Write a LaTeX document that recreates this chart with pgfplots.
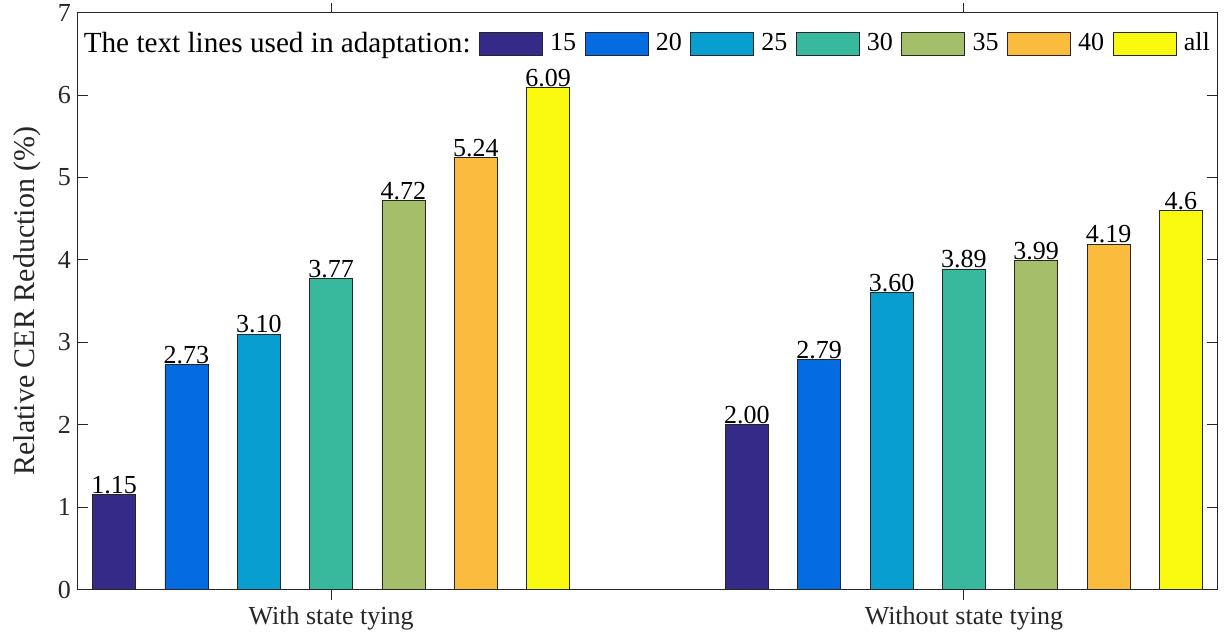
\documentclass[border=0pt]{standalone}
\usepackage{fontspec}
\setmainfont{Liberation Serif}
\usepackage{pgfplots}
\pgfplotsset{compat=1.18}
\usetikzlibrary{calc}
\definecolor{c1}{RGB}{53,42,135}
\definecolor{c2}{RGB}{4,108,224}
\definecolor{c3}{RGB}{8,158,207}
\definecolor{c4}{RGB}{56,185,157}
\definecolor{c5}{RGB}{165,190,106}
\definecolor{c6}{RGB}{251,188,61}
\definecolor{c7}{RGB}{249,249,15}
\definecolor{axc}{RGB}{38,38,38}
\pgfplotsset{myleg/.style={legend image code/.code={\draw[##1,/tikz/.cd] (0pt,-5.75pt) rectangle (31.5pt,5.75pt);}}}
\begin{document}
\begin{tikzpicture}
\begin{axis}[
  scale only axis, width=569.5pt, height=288.5pt,
  xmin=0.6, xmax=2.4, ymin=0, ymax=7,
  ytick={0,1,2,3,4,5,6,7}, xtick={1,2},
  xticklabels={With state tying, Without state tying},
  tick align=inside, major tick length=5pt,
  axis line style={axc, line width=0.5pt},
  tick style={axc, line width=0.5pt},
  ylabel={Relative CER Reduction (\%)},
  ylabel style={text=axc, font=\fontsize{15}{17}\selectfont},
  ylabel shift=1.5pt,
  ticklabel style={text=axc},
  ybar, bar width=0.068,
  nodes near coords, point meta=explicit symbolic,
  nodes near coords style={anchor=south, inner sep=0.3pt, font=\fontsize{13}{14}\selectfont, text=black},
  font=\fontsize{13}{15}\selectfont,
  /pgf/number format/assume math mode=true,
  legend columns=8,
  legend cell align=left,
  legend style={at={(0,0.9466)}, anchor=west, xshift=-1pt, draw=none, fill=none,
    inner sep=0pt,
    nodes={inner xsep=0pt, inner ysep=1pt},
    font=\fontsize{13}{15}\selectfont,
    /tikz/every odd column/.append style={column sep=3.7pt},
    /tikz/every even column/.append style={column sep=4.2pt}},
]
\coordinate (ll) at (rel axis cs:0,0);
\coordinate (ur) at (rel axis cs:1,1);
\addlegendimage{empty legend}
\addlegendentry{\fontsize{14.6}{16}\selectfont The text lines used in adaptation:}
\addplot[fill=c1, draw=axc, line width=0.4pt, bar shift=-0.3429, myleg] coordinates {(1,1.15) [1.15] (2,2.00) [2.00]};
\addlegendentry{15}
\addplot[fill=c2, draw=axc, line width=0.4pt, bar shift=-0.2286, myleg] coordinates {(1,2.73) [2.73] (2,2.79) [2.79]};
\addlegendentry{20}
\addplot[fill=c3, draw=axc, line width=0.4pt, bar shift=-0.1143, myleg] coordinates {(1,3.10) [3.10] (2,3.60) [3.60]};
\addlegendentry{25}
\addplot[fill=c4, draw=axc, line width=0.4pt, bar shift=0, myleg] coordinates {(1,3.77) [3.77] (2,3.89) [3.89]};
\addlegendentry{30}
\addplot[fill=c5, draw=axc, line width=0.4pt, bar shift=0.1143, myleg] coordinates {(1,4.72) [4.72] (2,3.99) [3.99]};
\addlegendentry{35}
\addplot[fill=c6, draw=axc, line width=0.4pt, bar shift=0.2286, myleg] coordinates {(1,5.24) [5.24] (2,4.19) [4.19]};
\addlegendentry{40}
\addplot[fill=c7, draw=axc, line width=0.4pt, bar shift=0.3429, myleg] coordinates {(1,6.09) [6.09] (2,4.60) [4.6]};
\addlegendentry{all}
\end{axis}
\pgfresetboundingbox
\path[use as bounding box] ($(ll)+(-39pt,-21.5pt)$) rectangle ($(ur)+(4.5pt,6.3pt)$);
\end{tikzpicture}
\end{document}
